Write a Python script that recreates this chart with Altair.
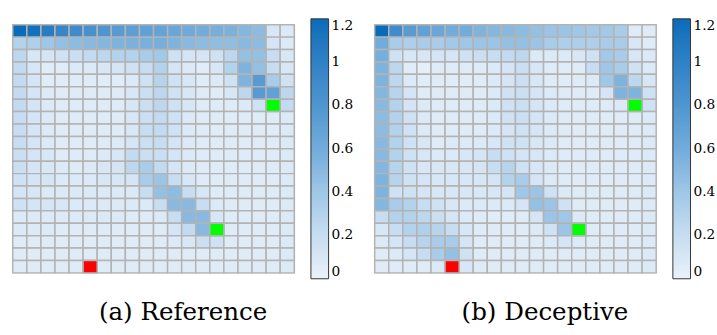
import altair as alt
import pandas as pd

# 20 x 20 visit-frequency grids (row 0 = top), values on a 0-1.2 scale
reference_values = [
    [1.20, 1.15, 1.05, 0.95, 0.90, 0.85, 0.80, 0.75, 0.72, 0.70, 0.68, 0.65, 0.62, 0.60, 0.58, 0.56, 0.52, 0.48, 0.10, 0.08],
    [0.30, 0.32, 0.40, 0.45, 0.48, 0.50, 0.52, 0.55, 0.56, 0.57, 0.58, 0.55, 0.50, 0.48, 0.47, 0.47, 0.50, 0.48, 0.12, 0.08],
    [0.25, 0.10, 0.12, 0.15, 0.18, 0.22, 0.25, 0.30, 0.30, 0.35, 0.38, 0.15, 0.12, 0.12, 0.15, 0.25, 0.45, 0.45, 0.20, 0.10],
    [0.22, 0.10, 0.05, 0.05, 0.08, 0.08, 0.10, 0.12, 0.15, 0.20, 0.30, 0.12, 0.08, 0.05, 0.10, 0.30, 0.55, 0.45, 0.20, 0.10],
    [0.22, 0.12, 0.05, 0.05, 0.06, 0.06, 0.05, 0.05, 0.08, 0.15, 0.28, 0.15, 0.10, 0.06, 0.08, 0.15, 0.55, 0.75, 0.35, 0.15],
    [0.22, 0.12, 0.08, 0.06, 0.06, 0.06, 0.06, 0.06, 0.10, 0.18, 0.25, 0.15, 0.10, 0.06, 0.06, 0.10, 0.25, 0.75, 0.70, 0.25],
    [0.22, 0.12, 0.08, 0.06, 0.06, 0.06, 0.06, 0.06, 0.10, 0.18, 0.25, 0.15, 0.10, 0.06, 0.06, 0.06, 0.08, 0.15, 0.06, 0.22],
    [0.20, 0.12, 0.08, 0.06, 0.06, 0.06, 0.06, 0.06, 0.10, 0.18, 0.22, 0.15, 0.08, 0.06, 0.06, 0.06, 0.06, 0.06, 0.06, 0.08],
    [0.20, 0.12, 0.08, 0.06, 0.06, 0.06, 0.06, 0.06, 0.10, 0.20, 0.22, 0.15, 0.08, 0.06, 0.06, 0.06, 0.06, 0.06, 0.06, 0.08],
    [0.20, 0.12, 0.08, 0.06, 0.06, 0.06, 0.06, 0.08, 0.12, 0.18, 0.20, 0.12, 0.08, 0.06, 0.06, 0.06, 0.06, 0.06, 0.06, 0.08],
    [0.18, 0.12, 0.10, 0.06, 0.06, 0.06, 0.08, 0.10, 0.22, 0.18, 0.18, 0.12, 0.08, 0.06, 0.06, 0.06, 0.06, 0.06, 0.06, 0.08],
    [0.18, 0.12, 0.10, 0.08, 0.06, 0.08, 0.10, 0.12, 0.25, 0.35, 0.22, 0.12, 0.08, 0.06, 0.06, 0.06, 0.06, 0.06, 0.06, 0.08],
    [0.15, 0.12, 0.12, 0.08, 0.08, 0.08, 0.10, 0.10, 0.12, 0.35, 0.42, 0.20, 0.10, 0.06, 0.06, 0.06, 0.06, 0.06, 0.06, 0.08],
    [0.12, 0.10, 0.08, 0.08, 0.08, 0.08, 0.08, 0.08, 0.08, 0.20, 0.45, 0.48, 0.20, 0.10, 0.06, 0.06, 0.06, 0.06, 0.06, 0.08],
    [0.15, 0.12, 0.12, 0.10, 0.08, 0.08, 0.08, 0.08, 0.08, 0.08, 0.20, 0.50, 0.50, 0.20, 0.08, 0.06, 0.06, 0.06, 0.06, 0.08],
    [0.08, 0.08, 0.08, 0.08, 0.08, 0.08, 0.08, 0.08, 0.06, 0.06, 0.08, 0.20, 0.50, 0.50, 0.10, 0.06, 0.06, 0.06, 0.06, 0.08],
    [0.08, 0.08, 0.08, 0.06, 0.06, 0.06, 0.06, 0.06, 0.06, 0.06, 0.06, 0.12, 0.22, 0.50, 0.06, 0.06, 0.06, 0.06, 0.06, 0.08],
    [0.06, 0.06, 0.06, 0.06, 0.06, 0.06, 0.06, 0.06, 0.06, 0.06, 0.06, 0.08, 0.10, 0.18, 0.15, 0.06, 0.06, 0.06, 0.06, 0.08],
    [0.06, 0.06, 0.06, 0.06, 0.06, 0.06, 0.06, 0.06, 0.06, 0.06, 0.06, 0.06, 0.06, 0.06, 0.06, 0.06, 0.06, 0.06, 0.06, 0.08],
    [0.06, 0.06, 0.06, 0.06, 0.06, 0.06, 0.06, 0.06, 0.06, 0.06, 0.06, 0.06, 0.06, 0.06, 0.06, 0.06, 0.06, 0.06, 0.06, 0.08],
]

deceptive_values = [
    [1.20, 0.90, 0.75, 0.70, 0.65, 0.60, 0.60, 0.55, 0.52, 0.50, 0.48, 0.45, 0.42, 0.42, 0.40, 0.38, 0.38, 0.35, 0.06, 0.06],
    [0.60, 0.35, 0.33, 0.35, 0.35, 0.38, 0.40, 0.42, 0.42, 0.45, 0.45, 0.42, 0.35, 0.33, 0.33, 0.33, 0.35, 0.35, 0.10, 0.06],
    [0.58, 0.15, 0.10, 0.10, 0.12, 0.12, 0.15, 0.18, 0.20, 0.22, 0.25, 0.08, 0.08, 0.08, 0.10, 0.15, 0.38, 0.35, 0.10, 0.08],
    [0.55, 0.25, 0.05, 0.03, 0.06, 0.06, 0.06, 0.06, 0.08, 0.12, 0.18, 0.10, 0.06, 0.05, 0.06, 0.20, 0.40, 0.35, 0.15, 0.08],
    [0.55, 0.25, 0.08, 0.05, 0.06, 0.05, 0.05, 0.06, 0.08, 0.12, 0.18, 0.10, 0.06, 0.05, 0.06, 0.08, 0.40, 0.55, 0.25, 0.10],
    [0.52, 0.28, 0.12, 0.06, 0.06, 0.06, 0.06, 0.06, 0.08, 0.15, 0.18, 0.12, 0.08, 0.06, 0.06, 0.06, 0.12, 0.55, 0.55, 0.15],
    [0.50, 0.30, 0.12, 0.08, 0.06, 0.06, 0.06, 0.06, 0.08, 0.15, 0.18, 0.12, 0.08, 0.06, 0.06, 0.06, 0.06, 0.08, 0.06, 0.15],
    [0.48, 0.30, 0.15, 0.08, 0.06, 0.06, 0.06, 0.06, 0.08, 0.15, 0.18, 0.12, 0.08, 0.06, 0.06, 0.06, 0.06, 0.06, 0.06, 0.08],
    [0.48, 0.30, 0.15, 0.08, 0.06, 0.06, 0.06, 0.06, 0.08, 0.12, 0.15, 0.12, 0.08, 0.06, 0.06, 0.06, 0.06, 0.06, 0.06, 0.08],
    [0.50, 0.30, 0.15, 0.10, 0.06, 0.08, 0.08, 0.08, 0.10, 0.15, 0.15, 0.10, 0.08, 0.06, 0.06, 0.06, 0.06, 0.06, 0.06, 0.08],
    [0.50, 0.30, 0.15, 0.10, 0.08, 0.08, 0.10, 0.12, 0.20, 0.15, 0.12, 0.10, 0.08, 0.06, 0.06, 0.06, 0.06, 0.06, 0.06, 0.08],
    [0.52, 0.28, 0.15, 0.10, 0.10, 0.10, 0.10, 0.12, 0.20, 0.28, 0.15, 0.10, 0.08, 0.06, 0.06, 0.06, 0.06, 0.06, 0.06, 0.08],
    [0.55, 0.28, 0.15, 0.12, 0.10, 0.10, 0.10, 0.10, 0.12, 0.30, 0.35, 0.12, 0.08, 0.06, 0.06, 0.06, 0.06, 0.06, 0.06, 0.08],
    [0.55, 0.15, 0.15, 0.12, 0.10, 0.10, 0.10, 0.10, 0.10, 0.12, 0.40, 0.42, 0.15, 0.08, 0.06, 0.06, 0.06, 0.06, 0.06, 0.08],
    [0.52, 0.35, 0.30, 0.20, 0.15, 0.10, 0.08, 0.08, 0.08, 0.08, 0.12, 0.45, 0.42, 0.15, 0.06, 0.06, 0.06, 0.06, 0.06, 0.08],
    [0.20, 0.30, 0.30, 0.25, 0.18, 0.12, 0.08, 0.06, 0.05, 0.05, 0.06, 0.12, 0.42, 0.40, 0.08, 0.06, 0.06, 0.06, 0.06, 0.08],
    [0.10, 0.20, 0.30, 0.32, 0.28, 0.20, 0.10, 0.06, 0.06, 0.06, 0.06, 0.08, 0.15, 0.42, 0.06, 0.06, 0.06, 0.06, 0.06, 0.08],
    [0.08, 0.12, 0.20, 0.28, 0.35, 0.35, 0.12, 0.06, 0.06, 0.06, 0.06, 0.06, 0.08, 0.12, 0.08, 0.06, 0.06, 0.06, 0.06, 0.08],
    [0.06, 0.08, 0.12, 0.20, 0.35, 0.45, 0.15, 0.06, 0.06, 0.06, 0.06, 0.06, 0.06, 0.06, 0.06, 0.06, 0.06, 0.06, 0.06, 0.08],
    [0.06, 0.06, 0.06, 0.06, 0.08, 0.00, 0.10, 0.06, 0.06, 0.06, 0.06, 0.06, 0.06, 0.06, 0.06, 0.06, 0.06, 0.06, 0.06, 0.08],
]

goal_cells = [(6, 18), (16, 14)]   # green (row, col)
start_cells = [(19, 5)]            # red (row, col)

legend_values = [0, 0.2, 0.4, 0.6, 0.8, 1.0, 1.2]
color_domain = [0, 0.2, 0.4, 0.6, 0.8, 1.0, 1.2]
color_range = ["#e9f2fa", "#c7ddf1", "#9fc7e7", "#72acdb", "#4f96d0", "#2f81c5", "#0a6cb9"]

N = 20
GRID = "#b3b3b3"
SERIF = "DejaVu Serif, Liberation Serif, Times New Roman, serif"


def to_long(vals):
    return pd.DataFrame(
        [{"row": r, "col": c, "v": v} for r, row in enumerate(vals) for c, v in enumerate(row)]
    )


marks_df = pd.DataFrame(
    [{"row": r, "col": c, "fill": "#00ff00"} for r, c in goal_cells]
    + [{"row": r, "col": c, "fill": "#ff0000"} for r, c in start_cells]
)


def panel(vals, title):
    x = alt.X("col:O", axis=None,
              scale=alt.Scale(domain=list(range(N)), paddingInner=0, paddingOuter=0))
    y = alt.Y("row:O", axis=None,
              scale=alt.Scale(domain=list(range(N)), paddingInner=0, paddingOuter=0))
    heat = alt.Chart(to_long(vals)).mark_rect(stroke=GRID, strokeWidth=1.5).encode(
        x=x, y=y,
        color=alt.Color(
            "v:Q",
            scale=alt.Scale(domain=color_domain, range=color_range, clamp=True),
            legend=alt.Legend(
                orient="none", legendX=304, legendY=-6, direction="vertical",
                title=None, gradientLength=265, gradientThickness=18,
                gradientStrokeColor="#333333", gradientStrokeWidth=1,
                values=legend_values, format="~g",
                labelFont=SERIF, labelFontSize=14, labelColor="black",
                labelOffset=3, labelOverlap=False,
            ),
        ),
    )
    special = alt.Chart(marks_df).mark_rect(stroke=GRID, strokeWidth=1.5).encode(
        x=x, y=y, fill=alt.Fill("fill:N", scale=None)
    )
    return alt.layer(heat, special).properties(
        width=287, height=253,
        title=alt.TitleParams(
            text=title, orient="bottom", anchor="middle", frame="bounds",
            font=SERIF, fontSize=25, fontWeight="normal", color="black", offset=21,
        ),
    )


chart = (
    alt.hconcat(panel(reference_values, "(a) Reference"),
                panel(deceptive_values, "(b) Deceptive"), spacing=18)
    .resolve_scale(color="independent")
    .properties(padding={"left": 11, "top": 15, "right": 0, "bottom": 0})
    .configure_view(strokeWidth=0)
    .configure(background="white")
)

chart.save("out.html", embed_options={"renderer": "svg", "actions": False})
